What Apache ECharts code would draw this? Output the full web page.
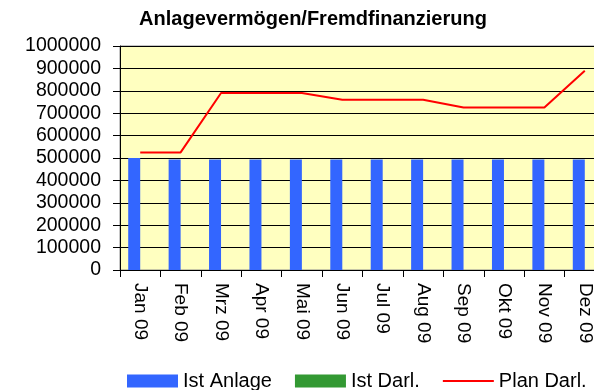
<!DOCTYPE html>
<html>
<head>
<meta charset="utf-8">
<script src="https://cdn.jsdelivr.net/npm/echarts@6/dist/echarts.min.js"></script>
<style>
  html, body { margin: 0; padding: 0; background: #ffffff; overflow: hidden; }
  /* the plot runs a little past the right edge of the page */
  #chart { width: 605px; height: 390px; }
</style>
</head>
<body>
<div id="chart"></div>
<script>
// Monthly figures for 2009
var months = ['Jan 09', 'Feb 09', 'Mrz 09', 'Apr 09', 'Mai 09', 'Jun 09',
              'Jul 09', 'Aug 09', 'Sep 09', 'Okt 09', 'Nov 09', 'Dez 09'];
var istAnlage = [500000, 493000, 493000, 493000, 493000, 493000,
                 493000, 493000, 493000, 493000, 493000, 493000];
var istDarl = [0, 0, 0, 0, 0, 0, 0, 0, 0, 0, 0, 0];
var planDarl = [525000, 525000, 790000, 790000, 790000, 760000,
                760000, 760000, 725000, 725000, 725000, 890000];
var yTicks = { min: 0, max: 1000000, interval: 100000 };

var font = 'Liberation Sans, Arial, sans-serif';
var chart = echarts.init(document.getElementById('chart'), null, { renderer: 'canvas' });

chart.setOption({
  animation: false,
  backgroundColor: '#ffffff',
  title: {
    text: 'Anlagevermögen/Fremdfinanzierung',
    left: 313,
    textAlign: 'center',
    top: 9,
    padding: 0,
    textStyle: { fontFamily: font, fontSize: 20, fontWeight: 'bold', color: '#000000' }
  },
  legend: {
    left: 127,
    top: 371,
    padding: 0,
    itemWidth: 51,
    itemHeight: 13,
    itemGap: 23,
    textStyle: { fontFamily: font, fontSize: 20, color: '#000000' },
    data: [
      { name: 'Ist Anlage', icon: 'rect' },
      { name: 'Ist Darl.', icon: 'rect' },
      { name: 'Plan Darl.', icon: 'path://M0,0 L51,0 L51,2 L0,2 Z' }
    ]
  },
  grid: {
    left: 120,
    top: 46,
    right: 0,
    height: 224,
    show: true,
    backgroundColor: '#ffffc0',
    borderColor: '#8c8c8c',
    borderWidth: 1
  },
  xAxis: {
    type: 'category',
    data: months,
    boundaryGap: true,
    axisLine: { lineStyle: { color: '#000000', width: 1 } },
    axisTick: { show: true, length: 7, inside: false, alignWithLabel: false,
                lineStyle: { color: '#000000' } },
    axisLabel: {
      interval: 0,
      rotate: -90,
      margin: 13,
      fontFamily: font,
      fontSize: 19,
      color: '#000000'
    }
  },
  yAxis: {
    type: 'value',
    min: yTicks.min,
    max: yTicks.max,
    interval: yTicks.interval,
    axisLine: { show: true, lineStyle: { color: '#000000', width: 1 } },
    axisTick: { show: true, length: 7, inside: false, lineStyle: { color: '#000000' } },
    splitLine: { show: true, lineStyle: { color: '#000000', width: 1 } },
    axisLabel: {
      margin: 19,
      fontFamily: font,
      fontSize: 19.5,
      color: '#000000',
      formatter: function (v) { return String(v); }
    }
  },
  series: [
    {
      name: 'Ist Anlage',
      type: 'bar',
      data: istAnlage,
      barWidth: 12,
      barGap: '0%',
      itemStyle: { color: '#3366ff' }
    },
    {
      name: 'Ist Darl.',
      type: 'bar',
      data: istDarl,
      barWidth: 12,
      barGap: '0%',
      itemStyle: { color: '#339933' }
    },
    {
      name: 'Plan Darl.',
      type: 'line',
      data: planDarl,
      symbol: 'none',
      lineStyle: { color: '#ff0000', width: 2 },
      itemStyle: { color: '#ff0000' }
    }
  ]
});
</script>
</body>
</html>
